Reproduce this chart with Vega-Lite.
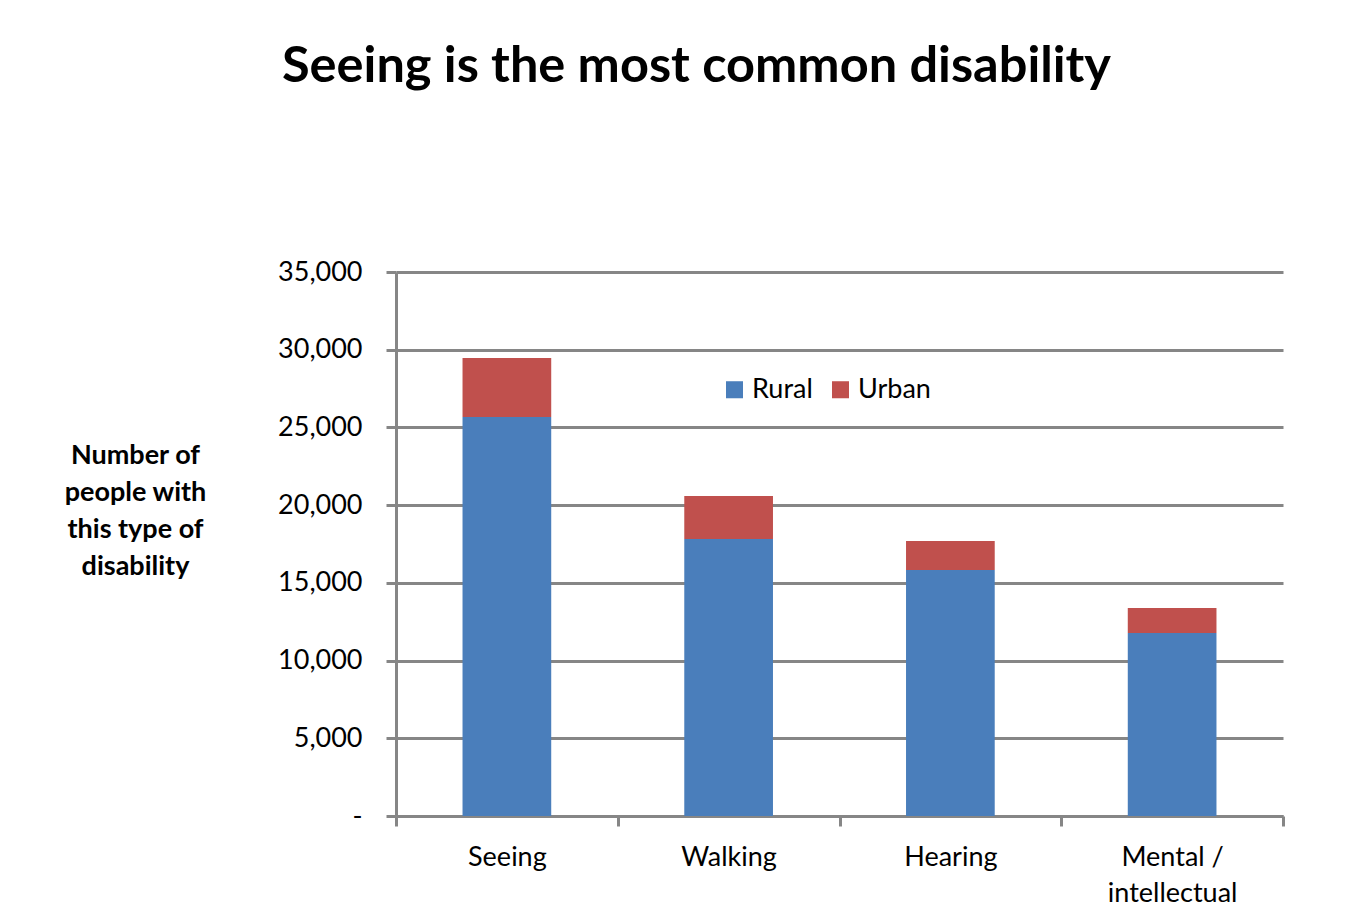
{
  "$schema": "https://vega.github.io/schema/vega-lite/v6.json",
  "width": 887,
  "height": 544,
  "autosize": {"type": "none"},
  "padding": {"left": 396, "top": 272, "right": 63, "bottom": 105},
  "background": "#ffffff",
  "config": {
    "font": "Lato",
    "view": {"stroke": null}
  },
  "title": {
    "text": "Seeing is the most common disability",
    "font": "Lato",
    "fontSize": 50.5,
    "fontWeight": "bold",
    "color": "#000000",
    "frame": "group",
    "anchor": "start",
    "dx": -114,
    "baseline": "alphabetic",
    "offset": 126
  },
  "data": {
    "values": [
      {"type": "Seeing", "area": "Rural", "count": 25670},
      {"type": "Seeing", "area": "Urban", "count": 3800},
      {"type": "Walking", "area": "Rural", "count": 17820},
      {"type": "Walking", "area": "Urban", "count": 2770},
      {"type": "Hearing", "area": "Rural", "count": 15830},
      {"type": "Hearing", "area": "Urban", "count": 1860},
      {"type": "Mental / intellectual", "area": "Rural", "count": 11770},
      {"type": "Mental / intellectual", "area": "Urban", "count": 1610}
    ]
  },
  "mark": {"type": "bar", "width": {"band": 0.4}},
  "encoding": {
    "x": {
      "field": "type",
      "type": "nominal",
      "sort": ["Seeing", "Walking", "Hearing", "Mental / intellectual"],
      "scale": {"paddingInner": 0, "paddingOuter": 0},
      "axis": {
        "title": null,
        "labelAngle": 0,
        "labelFont": "Lato",
        "labelFontSize": 27,
        "labelColor": "#000000",
        "labelPadding": 18,
        "labelBaseline": "top",
        "labelLineHeight": 36,
        "labelExpr": "datum.label == 'Mental / intellectual' ? ['Mental /', 'intellectual'] : datum.label",
        "domainColor": "#868686",
        "domainWidth": 3,
        "tickColor": "#868686",
        "tickWidth": 3,
        "tickSize": 10,
        "tickBand": "extent",
        "grid": false
      }
    },
    "y": {
      "field": "count",
      "type": "quantitative",
      "stack": "zero",
      "scale": {"domain": [0, 35000], "nice": false},
      "axis": {
        "values": [0, 5000, 10000, 15000, 20000, 25000, 30000, 35000],
        "labelExpr": "datum.value == 0 ? '-' : format(datum.value, ',')",
        "labelFont": "Lato",
        "labelFontSize": 27,
        "labelColor": "#000000",
        "labelPadding": 24,
        "tickSize": 10,
        "tickColor": "#868686",
        "tickWidth": 3,
        "domainColor": "#868686",
        "domainWidth": 3,
        "grid": true,
        "gridColor": "#868686",
        "gridWidth": 3,
        "title": ["Number of", "people with", "this type of", "disability"],
        "titleAngle": 0,
        "titleFont": "Lato",
        "titleFontSize": 27,
        "titleFontWeight": "bold",
        "titleColor": "#000000",
        "titleAlign": "center",
        "titleBaseline": "alphabetic",
        "titleLineHeight": 37,
        "titleX": -261,
        "titleY": 191
      }
    },
    "color": {
      "field": "area",
      "type": "nominal",
      "scale": {"domain": ["Rural", "Urban"], "range": ["#4a7ebb", "#c0504d"]},
      "legend": {
        "title": null,
        "orient": "none",
        "direction": "horizontal",
        "legendX": 325,
        "legendY": 104,
        "symbolType": "square",
        "symbolSize": 290,
        "symbolStrokeWidth": 0,
        "symbolOpacity": 1,
        "labelFont": "Lato",
        "labelFontSize": 27,
        "labelColor": "#000000",
        "labelOffset": 4,
        "columnPadding": 14
      }
    },
    "order": {"field": "area", "sort": "ascending"}
  }
}
